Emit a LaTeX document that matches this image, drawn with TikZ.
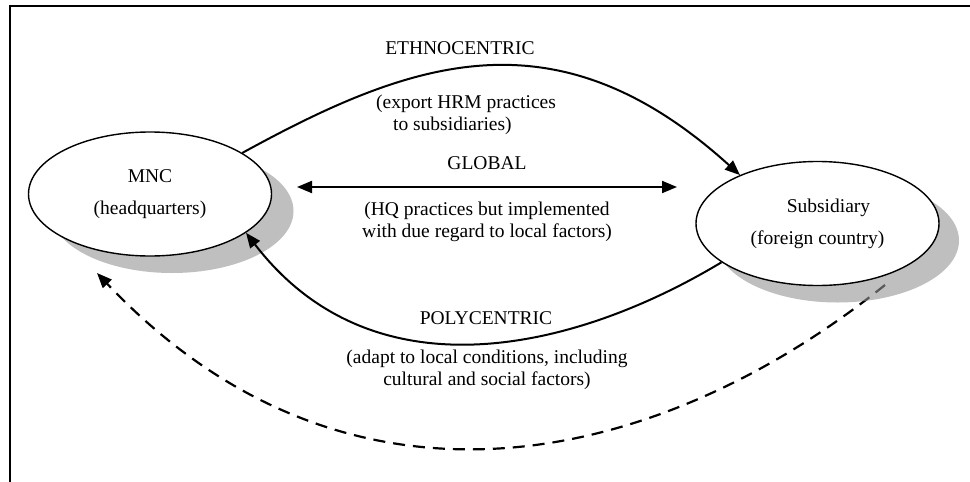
\documentclass[tikz,border=0pt]{standalone}
\usepackage{fontspec}
\setmainfont{Liberation Serif}
\usetikzlibrary{arrows.meta,shapes.geometric}

\begin{document}
\begin{tikzpicture}[x=1pt,y=-1pt,
  font=\fontsize{19.5}{22}\selectfont,
  >={Triangle[length=15pt,width=12pt]},
  party/.style={ellipse,draw,line width=1.4pt,fill=white,minimum width=243pt,minimum height=124pt,inner sep=0pt,align=center},
  shade/.style={ellipse,fill=black!42,fill opacity=0.6,minimum width=243pt,minimum height=124pt,inner sep=0pt},
  flow/.style={line width=2pt},
  note/.style={align=center,inner sep=0pt}]
  \useasboundingbox (0,0) rectangle (970,482);
  \draw[line width=1.8pt] (10,482) -- (10,6) -- (970,6);

  \coordinate (dashstart) at (885,285);
  \coordinate (dashend) at (97,273);
  \coordinate (gl) at (297,187);
  \coordinate (gr) at (677,187);

  \draw[flow,line width=2.2pt,dash pattern=on 12pt off 8pt,->] (dashstart) .. controls (658,467) and (349,539) .. (dashend);

  \node[shade] (mncs) at (172,211) {};
  \node[shade] (subs) at (837.5,240.5) {};
  \node[party] (mnc) at (150,194) {MNC\\[10pt](headquarters)};
  \node[party] (sub) at (817.5,223.5) {\hspace*{22pt}Subsidiary\\[10pt](foreign country)};

  \node[note] (ethno) at (460,48) {ETHNOCENTRIC};
  \node[note,align=left] (ethnotxt) at (466,115) {(export HRM practices\\\hspace*{17pt}to subsidiaries)};
  \node[note] (glob) at (487,163) {GLOBAL};
  \node[note] (globtxt) at (487,222) {(HQ practices but implemented\\with due regard to local factors)};
  \node[note] (poly) at (486,318) {POLYCENTRIC};
  \node[note] (polytxt) at (487,370) {(adapt to local conditions, including\\cultural and social factors)};

  \draw[flow,->] (mnc.24) .. controls (410,61) and (555,7.5) .. (sub.148);
  \draw[flow,<->] (gl) -- (gr);
  \draw[flow,->] (sub.202) .. controls (581,347) and (376,402) .. (mnc.338);
\end{tikzpicture}
\end{document}
